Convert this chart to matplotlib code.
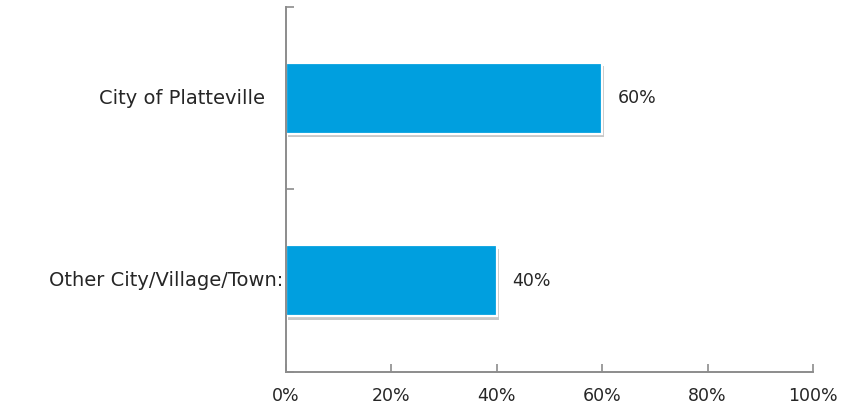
import matplotlib
matplotlib.use('Agg')
import matplotlib.pyplot as plt
import matplotlib.patheffects as pe
from matplotlib.ticker import FixedLocator, FuncFormatter

# ── Data ──────────────────────────────────────────────────────────────────────
categories = ['Other City/Village/Town:', 'City of Platteville']
shares     = [40, 60]            # percent of respondents
x_ticks    = [0, 20, 40, 60, 80, 100]
label_gap  = [2, 15]             # space between label end and axis (pt)

BAR_COLOR  = '#009FDF'
AXIS_COLOR = '#8C8C8C'
TEXT_COLOR = '#262626'
FS = 12.5        # numbers
FS_CAT = 14      # category names

plt.rcParams['font.family'] = ['DejaVu Sans']

fig = plt.figure(figsize=(8.57, 4.11), dpi=100)
ax = fig.add_axes([0.3337, 0.0949, 0.6150, 0.8881])

ypos = list(range(len(categories)))
bars = ax.barh(ypos, shares, height=0.39, color=BAR_COLOR,
               edgecolor='white', linewidth=1.6)
for b in bars:
    b.set_path_effects([pe.SimplePatchShadow(offset=(1.5, -2.5), shadow_rgbFace='#777777',
                                             alpha=0.4),
                        pe.Normal()])

# value labels to the right of each bar
for y, v in zip(ypos, shares):
    ax.annotate(f'{v}%', xy=(v, y), xytext=(11, 0), textcoords='offset points',
                va='center', ha='left', fontsize=FS, color=TEXT_COLOR)

# category labels, right-aligned left of the axis
for y, name, gap in zip(ypos, categories, label_gap):
    ax.annotate(name, xy=(0, y), xycoords=('axes fraction', 'data'),
                xytext=(-gap, 0), textcoords='offset points',
                va='center', ha='right', fontsize=FS_CAT, color=TEXT_COLOR)

ax.set_xlim(0, 100)
ax.set_ylim(-0.5, len(categories) - 0.5)

ax.xaxis.set_major_locator(FixedLocator(x_ticks))
ax.xaxis.set_major_formatter(FuncFormatter(lambda v, _: f'{v:.0f}%'))
ax.tick_params(axis='x', direction='in', length=6, width=1.2, color=AXIS_COLOR,
               labelsize=FS, labelcolor=TEXT_COLOR, pad=11)

ax.set_yticks([])
ax.set_yticks([-0.5, 0.5, 1.5], minor=True)
ax.tick_params(axis='y', which='minor', direction='in', length=6, width=1.2,
               color=AXIS_COLOR)

for side in ('top', 'right'):
    ax.spines[side].set_visible(False)
for side in ('left', 'bottom'):
    ax.spines[side].set_color(AXIS_COLOR)
    ax.spines[side].set_linewidth(1.4)

fig.savefig('out.png', dpi=100)
